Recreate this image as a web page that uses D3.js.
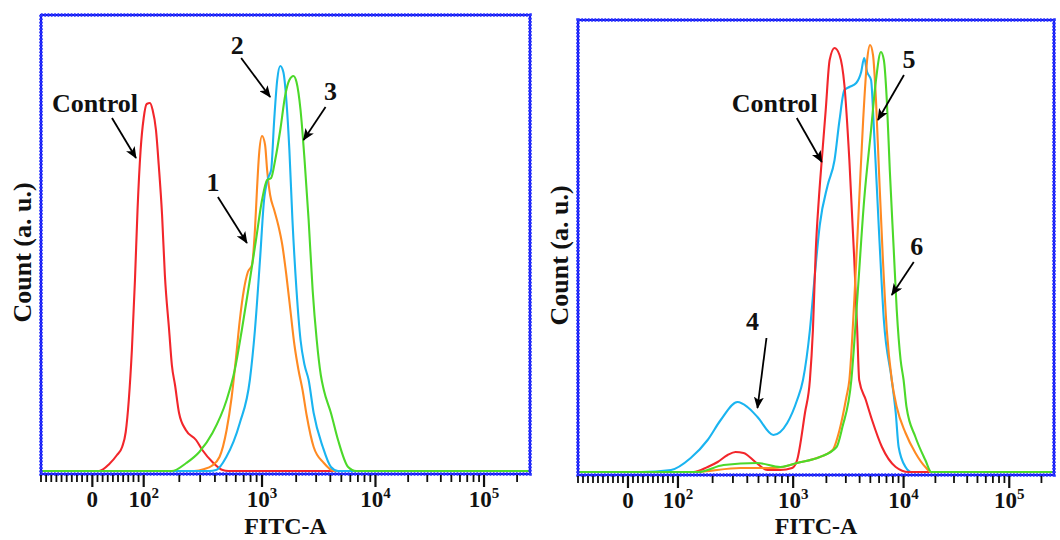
<!DOCTYPE html>
<html><head><meta charset="utf-8">
<script src="https://cdn.jsdelivr.net/npm/d3@7"></script>
<style>html,body{margin:0;padding:0;background:#fff}svg{display:block}</style>
</head><body>
<svg id="chart" width="1060" height="540"></svg>
<script>
// ---------- DATA (FITC-A value, count a.u.) ----------
const leftControl = [[13,0],[33,7],[48,16],[58,24],[65,39],[71,71],[77,121],[83,191],[88,261],[94,321],[100,353],[106,367],[113,368],[119,361],[127,341],[134,306],[143,256],[151,196],[164,141],[173,106],[184,86],[199,58],[227,41],[277,31],[313,21],[381,9],[464,1],[520,0]];
const leftS1 = [[267,0],[326,2],[374,5],[437,14],[502,41],[554,74],[600,111],[649,151],[702,181],[759,199],[822,206],[871,241],[906,281],[943,316],[1000,335],[1064,326],[1109,301],[1179,276],[1280,261],[1389,246],[1509,226],[1638,196],[1778,161],[1931,126],[2096,101],[2276,81],[2471,56],[2852,24],[3505,8],[4305,0]];
const leftS2 = [[359,0],[410,1],[499,14],[649,48],[789,91],[871,141],[961,211],[1042,271],[1132,293],[1203,301],[1280,351],[1361,391],[1448,405],[1541,399],[1638,371],[1742,321],[1854,251],[2013,181],[2185,131],[2371,106],[2575,91],[2852,58],[3434,24],[4050,4],[4677,0]];
const leftS3 = [[173,0],[229,8],[295,19],[381,38],[502,71],[588,101],[675,141],[789,191],[889,231],[1000,271],[1109,291],[1203,293],[1306,311],[1448,341],[1603,376],[1742,391],[1892,395],[2013,389],[2185,361],[2371,311],[2575,251],[2793,181],[3035,131],[3296,96],[3505,81],[4050,58],[4677,31],[5741,4],[6761,0]];

const rightControl = [[137,0],[181,5],[221,10],[270,17],[316,20],[371,19],[470,10],[597,2],[773,2],[980,4],[1086,12],[1279,59],[1418,92],[1510,142],[1603,222],[1706,272],[1816,312],[1972,362],[2140,412],[2371,424],[2630,417],[2911,387],[3228,312],[3578,212],[3802,142],[3963,92],[4550,72],[5180,52],[6368,25],[8492,5],[11130,0]];
const rightS4 = [[26,0],[86,2],[129,14],[181,32],[235,52],[329,70],[401,65],[490,55],[673,37],[888,49],[1086,72],[1228,92],[1418,142],[1571,197],[1742,247],[2056,287],[2371,312],[2630,352],[2911,382],[3228,385],[3724,389],[4130,400],[4395,414],[4677,400],[5075,392],[5395,342],[5980,242],[6627,152],[7816,92],[8492,59],[9020,25],[10440,5],[11880,0]];
const rightS5 = [[137,0],[349,4],[673,4],[820,5],[1086,9],[1637,14],[2276,22],[2630,42],[3035,75],[3228,92],[3578,172],[3963,272],[4305,352],[4677,412],[4970,427],[5285,417],[5623,372],[5980,302],[6500,212],[7047,142],[7816,92],[8670,65],[10440,39],[12950,19],[16060,5],[18270,0]];
const rightS6 = [[149,0],[249,7],[490,9],[773,5],[1086,9],[1742,15],[2472,25],[2793,45],[3365,92],[3802,172],[4395,272],[5075,342],[5623,392],[6237,420],[6627,412],[7047,372],[7500,302],[8147,222],[8670,162],[9400,112],[10000,92],[10660,65],[12950,35],[16060,12],[18270,0]];

const majorTicks = [0, 1e2, 1e3, 1e4, 1e5];
const majorLabels = [["0",""],["10","2"],["10","3"],["10","4"],["10","5"]];
const xTitle = "FITC-A";
const yTitle = "Count (a. u.)";

// annotations: label, arrow tip in data units [FITC, count]
const leftNotes = [
  {text:"Control", tip:[85,313]},
  {text:"1", tip:[745,228]},
  {text:"2", tip:[1179,374]},
  {text:"3", tip:[2323,331]}
];
const rightNotes = [
  {text:"Control", tip:[1816,310]},
  {text:"5", tip:[5862,352]},
  {text:"6", tip:[7816,177]},
  {text:"4", tip:[490,64]}
];

// ---------- LAYOUT ----------
const COLORS = {red:"#f2262b", orange:"#ff8a22", blue:"#1ab4f0", green:"#4cd92a"};
const FONT = "'Liberation Serif','Times New Roman',serif";
// offsets of label (center, baseline) and arrow start relative to arrow tip, px
const noteLayout = {
  left: [ {lab:[-41,-46], from:[-24,-40]}, {lab:[-34,-52], from:[-29,-46]}, {lab:[-33,-43], from:[-29,-39]}, {lab:[27,-40], from:[22,-33]} ],
  right:[ {lab:[-47,-50], from:[-25,-44]}, {lab:[31,-52], from:[26,-45]}, {lab:[25,-40], from:[22,-33]}, {lab:[-5,-78], from:[9,-70]} ]
};
const panels = [
  {x0:41, x1:530, y0:15, y1:474, base:471,
   series:[[leftControl,COLORS.red],[leftS1,COLORS.orange],[leftS2,COLORS.blue],[leftS3,COLORS.green]],
   notes:leftNotes, layout:noteLayout.left},
  {x0:578, x1:1054, y0:20, y1:475, base:472,
   series:[[rightS4,COLORS.blue],[rightControl,COLORS.red],[rightS5,COLORS.orange],[rightS6,COLORS.green]],
   notes:rightNotes, layout:noteLayout.right}
];

// biexponential-like display transform: linear |v|<=100, log above
function toDisplay(v){
  const a = Math.abs(v);
  if (a <= 100) return v/50;
  return Math.sign(v)*Math.log10(a);
}
const dispDomain = [-2, 0, 2, 3, 4, 5, Math.log10(262144)];
const dispFrac   = [0, 0.105, 0.21, 0.452, 0.684, 0.906, 1];

const minorTicks = [];
for (let k=1;k<=9;k++){ minorTicks.push(-k*10, k*10); }
[100,1000,10000].forEach(d=>{ for(let k=2;k<=9;k++) minorTicks.push(k*d); });
minorTicks.push(-100, 200000);

const svg = d3.select("#chart");
const defs = svg.append("defs");
defs.append("marker").attr("id","ah").attr("markerUnits","userSpaceOnUse")
  .attr("viewBox","0 0 12 10").attr("refX",11).attr("refY",5)
  .attr("markerWidth",12).attr("markerHeight",10).attr("orient","auto")
  .append("path").attr("d","M0,0 L12,5 L0,10 L3,5 Z").attr("fill","#000");

panels.forEach(p=>{
  const sx = d3.scaleLinear().domain(dispDomain).range(dispFrac.map(f=>p.x0+f*(p.x1-p.x0)));
  const X = v => sx(toDisplay(v));
  const Y = d3.scaleLinear().domain([0,456]).range([p.base, p.base-456]);
  const g = svg.append("g");

  const line = d3.line().x(d=>X(d[0])).y(d=>Y(d[1])).curve(d3.curveMonotoneX);
  p.series.forEach(([data,color])=>{
    const full = [[-100,0]].concat(data, [[262144,0]]);
    g.append("path").attr("d",line(full)).attr("fill","none")
      .attr("stroke",color).attr("stroke-width",2.1).attr("stroke-linejoin","round");
  });

  // frame (beaded blue)
  g.append("rect").attr("x",p.x0).attr("y",p.y0).attr("width",p.x1-p.x0).attr("height",p.y1-p.y0)
    .attr("fill","none").attr("stroke","#1212ee").attr("stroke-width",2.2);
  g.append("rect").attr("x",p.x0).attr("y",p.y0).attr("width",p.x1-p.x0).attr("height",p.y1-p.y0)
    .attr("fill","none").attr("stroke","#2a36ff").attr("stroke-width",3.6)
    .attr("stroke-dasharray","1.7 1.6");

  // ticks
  const tg = g.append("g");
  minorTicks.forEach(t=>{
    tg.append("line").attr("x1",X(t)).attr("x2",X(t)).attr("y1",p.y1+1).attr("y2",p.y1+8)
      .attr("stroke","#111").attr("stroke-width",1.8);
  });
  majorTicks.forEach((t,i)=>{
    tg.append("line").attr("x1",X(t)).attr("x2",X(t)).attr("y1",p.y1+1).attr("y2",p.y1+13)
      .attr("stroke","#111").attr("stroke-width",2.2);
    const tx = tg.append("text").attr("x",X(t)).attr("y",p.y1+33).attr("text-anchor","middle")
      .attr("font-family",FONT).attr("font-weight","bold").attr("font-size",23).attr("fill","#111");
    tx.append("tspan").text(majorLabels[i][0]);
    if (majorLabels[i][1]) tx.append("tspan").attr("dy",-9).attr("font-size",15).text(majorLabels[i][1]);
  });

  g.append("text").attr("x",(p.x0+p.x1)/2).attr("y",534).attr("text-anchor","middle")
    .attr("font-family",FONT).attr("font-weight","bold").attr("font-size",24).attr("fill","#111").text(xTitle);
  g.append("text").attr("transform",`translate(${p.x0-10},${(p.y0+p.y1)/2+8}) rotate(-90)`)
    .attr("text-anchor","middle").attr("font-family",FONT).attr("font-weight","bold")
    .attr("font-size",26).attr("fill","#111").text(yTitle);

  // annotations
  p.notes.forEach((n,i)=>{
    const lx = X(n.tip[0]), ly = Y(n.tip[1]);
    const L = p.layout[i];
    g.append("line").attr("x1",lx+L.from[0]).attr("y1",ly+L.from[1]).attr("x2",lx).attr("y2",ly)
      .attr("stroke","#000").attr("stroke-width",1.8).attr("marker-end","url(#ah)");
    g.append("text").attr("x",lx+L.lab[0]).attr("y",ly+L.lab[1]).attr("text-anchor","middle")
      .attr("font-family",FONT).attr("font-weight","bold").attr("font-size",26).attr("fill","#111").text(n.text);
  });
});
</script>
</body></html>
